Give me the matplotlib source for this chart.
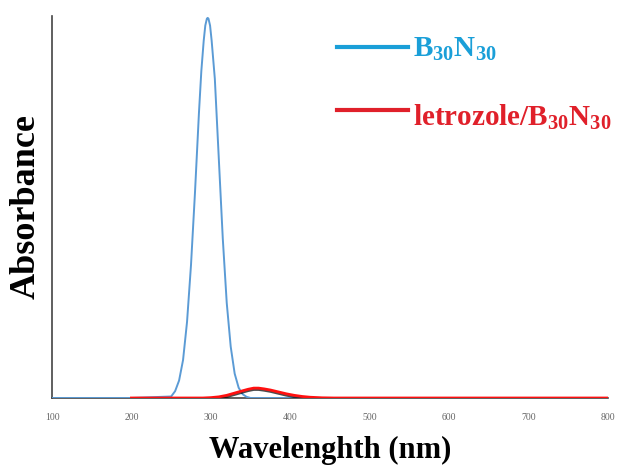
import matplotlib
matplotlib.use('Agg')
import matplotlib.pyplot as plt
import matplotlib.patheffects as pe
from matplotlib.lines import Line2D

# Wavelength (nm) and absorbance (normalised)
b30n30_wl = [100, 200, 250, 255, 260, 265, 270, 275, 280, 285, 288, 291, 293, 295,
             296, 297, 299, 301, 303, 305, 310, 315, 320, 325, 330, 335, 340, 345,
             350, 400, 430]
b30n30_abs = [0.0, 0.0, 0.004, 0.018, 0.046, 0.10, 0.20, 0.35, 0.54, 0.75, 0.86,
              0.94, 0.98, 0.998, 1.0, 0.998, 0.98, 0.94, 0.89, 0.84, 0.63, 0.42,
              0.25, 0.135, 0.064, 0.027, 0.010, 0.003, 0.0, 0.0, 0.0]

letrozole_wl = [200, 290, 300, 310, 320, 330, 340, 347, 354, 360, 367, 375, 385,
                395, 405, 415, 425, 440, 455, 800]
letrozole_abs = [0.0, 0.0, 0.001, 0.003, 0.007, 0.013, 0.019, 0.023, 0.026,
                 0.026, 0.024, 0.021, 0.016, 0.011, 0.007, 0.004, 0.002, 0.0005, 0.0, 0.0]

xticks = [100, 200, 300, 400, 500, 600, 700, 800]

plt.rcParams['font.family'] = 'Liberation Serif'
plt.rcParams['mathtext.default'] = 'regular'

W, H = 617, 466
fig = plt.figure(figsize=(W / 100, H / 100), dpi=100)
ax = fig.add_axes([52 / W, 1 - 398 / H, (608 - 52) / W, (398 - 16) / H])

ax.plot(b30n30_wl, b30n30_abs, color='#5b9bd5', lw=1.4, zorder=3)
ax.plot(letrozole_wl, letrozole_abs, color='#ff1010', lw=2.0, zorder=4,
        path_effects=[pe.SimpleLineShadow(offset=(0, -1), shadow_color='black', alpha=0.7),
                      pe.Normal()])

ax.set_xlim(100, 800)
ax.set_ylim(0, 1.005)
ax.set_xticks(xticks)
ax.set_xticklabels([str(t) for t in xticks])
ax.set_yticks([])
ax.tick_params(axis='x', length=0, pad=11, labelsize=7, labelcolor='#666666')
for s in ['top', 'right']:
    ax.spines[s].set_visible(False)
for s in ['left', 'bottom']:
    ax.spines[s].set_color('#444444')
    ax.spines[s].set_linewidth(1.2)

ax.set_xlabel('Wavelenghth (nm)', fontsize=22, fontweight='bold', labelpad=10)
ax.set_ylabel('Absorbance', fontsize=26, fontweight='bold', labelpad=7)

# legend drawn by hand
fig.add_artist(Line2D([337 / W, 408 / W], [1 - 47 / H, 1 - 47 / H], color='#1a9fd8', lw=3))
fig.add_artist(Line2D([337 / W, 408 / W], [1 - 110 / H, 1 - 110 / H], color='#e0202a', lw=3))
fig.text(413 / W, 1 - 57 / H, r'B$_{30}$N$_{30}$', color='#1a9fd8', fontsize=21,
         fontweight='bold', va='baseline')
fig.text(413 / W, 1 - 126 / H, r'letrozole/B$_{30}$N$_{30}$', color='#e0202a', fontsize=21,
         fontweight='bold', va='baseline')

fig.savefig('out.png', dpi=100)
